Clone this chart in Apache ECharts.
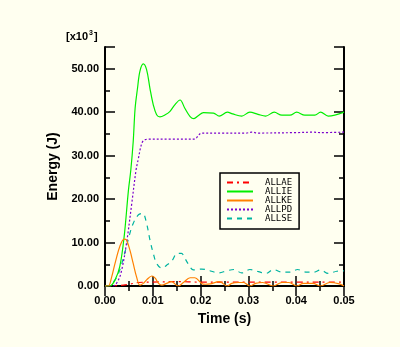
<!DOCTYPE html>
<html><head><meta charset="utf-8">
<script src="https://cdn.jsdelivr.net/npm/echarts@6/dist/echarts.min.js"></script>
<style>html,body{margin:0;padding:0;background:#FFFFF0;}#c{width:400px;height:347px;}</style>
</head><body><div id="c"></div>
<script>
// ---- data (time in s, energy in 10^3 J) ----
const seriesNames = ['ALLAE', 'ALLIE', 'ALLKE', 'ALLPD', 'ALLSE'];
const xTicks = [0, 0.01, 0.02, 0.03, 0.04, 0.05];
const yTicks = [0, 10, 20, 30, 40, 50];

const aeTime = [0, 0.003, 0.005, 0.007, 0.010, 0.015, 0.020, 0.025, 0.030, 0.035, 0.040, 0.045, 0.050];
const aeVal  = [0, 0.1, 0.4, 0.8, 0.9, 1.0, 0.9, 0.9, 0.9, 0.9, 0.9, 0.9, 0.9];

const ieTime = [0, 0.001, 0.0021, 0.0031, 0.004, 0.0049, 0.0054, 0.0059, 0.0063, 0.0068, 0.0073, 0.008, 0.0087, 0.0094, 0.0101, 0.0108, 0.0115, 0.0126, 0.0136, 0.0146, 0.0157, 0.0167, 0.0178, 0.0186, 0.0195, 0.0206, 0.0227, 0.0239, 0.0256, 0.0267, 0.0286, 0.0303, 0.032, 0.0336, 0.0354, 0.037, 0.0387, 0.0401, 0.0418, 0.0439, 0.0451, 0.0467, 0.05];
const ieVal  = [0, 0, 1.4, 4.5, 11.3, 22, 26.7, 33.2, 40.9, 45.5, 49.4, 51.1, 49.8, 45.5, 41.7, 39.4, 38.9, 39.4, 40.2, 41.7, 42.8, 40.9, 39.0, 38.5, 39.2, 39.9, 39.8, 39.1, 40.0, 39.6, 39.1, 40.0, 39.5, 39.1, 40.0, 39.3, 39.3, 40.0, 39.3, 39.3, 40.0, 39.1, 40.0];

const keTime = [0, 0.0007, 0.0014, 0.0021, 0.0031, 0.004, 0.0045, 0.0052, 0.0059, 0.0066, 0.0073, 0.008, 0.0087, 0.0098, 0.0105, 0.0112, 0.0119, 0.0129, 0.0139, 0.0153, 0.0164, 0.0178, 0.0188, 0.0202, 0.021, 0.022, 0.0239, 0.0256, 0.0265, 0.0279, 0.029, 0.0303, 0.0315, 0.033, 0.0352, 0.037, 0.0385, 0.0401, 0.0415, 0.0435, 0.0451, 0.047, 0.049, 0.05];
const keVal  = [0, 0, 2.1, 5.2, 9.1, 10.8, 10.6, 8.3, 5.2, 2.1, 0.2, 0.6, 1.4, 2.3, 1.8, 0.6, 0.2, 0.6, 1.0, 0.0, 0.8, 1.9, 1.9, 0.6, 0.4, 0.5, 1.0, 0.0, 0.6, 0.8, 0.8, 0.0, 0.6, 0.8, 0.0, 0.8, 0.8, 0.0, 0.6, 0.6, 0.0, 0.8, 0.5, 0.0];

const pdTime = [0, 0.0017, 0.0028, 0.0035, 0.0045, 0.0056, 0.0065, 0.007, 0.0075, 0.008, 0.0091, 0.0136, 0.0188, 0.0195, 0.0202, 0.025, 0.0295, 0.0307, 0.032, 0.04, 0.0435, 0.045, 0.05];
const pdVal  = [0, 0, 1.4, 3.7, 9.8, 19, 26.7, 29.4, 32.1, 33.4, 33.8, 33.8, 33.8, 34.6, 35.2, 35.2, 35.2, 35.4, 35.2, 35.3, 35.4, 35.3, 35.4];

const seTime = [0, 0.0007, 0.0021, 0.0031, 0.0042, 0.0052, 0.0059, 0.007, 0.0079, 0.0087, 0.0094, 0.0101, 0.0108, 0.0119, 0.0129, 0.014, 0.0151, 0.016, 0.0167, 0.0174, 0.0185, 0.0202, 0.022, 0.0237, 0.0255, 0.027, 0.0286, 0.0303, 0.0321, 0.0337, 0.0352, 0.037, 0.0387, 0.0403, 0.042, 0.0437, 0.0451, 0.0467, 0.0485, 0.05];
const seVal  = [0, 0, 1.4, 3.7, 7.9, 12.1, 14.4, 16.4, 16.7, 14.4, 10.6, 7.5, 5.2, 4.1, 4.8, 5.8, 7.5, 7.5, 6.4, 5.1, 3.7, 3.9, 3.5, 3.0, 3.5, 3.8, 3.0, 3.8, 3.3, 2.9, 3.8, 3.2, 3.2, 3.8, 3.2, 3.2, 3.7, 2.9, 3.4, 3.5];

// ---- styling ----
const zip = (t, v) => t.map((x, i) => [x, v[i]]);
const FONT = "'Liberation Sans', Arial, sans-serif";
const GRID = { left: 105, right: 56, top: 47, bottom: 61 };
const black = '#000';
const yMax = 55;

const chart = echarts.init(document.getElementById('c'), null, { renderer: 'canvas' });

function yAx(pos, interval, len, labels, gridIndex, name) {
  return {
    type: 'value', gridIndex, position: pos, min: 0, max: yMax, interval,
    axisLine: { show: len === 5, lineStyle: { color: black, width: 2 } },
    axisTick: { show: true, inside: true, length: len, lineStyle: { color: black, width: 1.5 } },
    axisLabel: labels ? {
      show: true, color: black, fontFamily: FONT, fontWeight: 'bold', fontSize: 11, margin: 6,
      formatter: v => (yTicks.indexOf(v) >= 0 ? v.toFixed(2) : '')
    } : { show: false },
    splitLine: { show: false },
    name: name || '', nameLocation: 'middle', nameGap: 44,
    nameTextStyle: { color: black, fontFamily: FONT, fontWeight: 'bold', fontSize: 14 }
  };
}
function xAx(pos, labels, gridIndex) {
  return {
    type: 'value', gridIndex, position: pos, min: 0, max: 0.05, interval: 0.01,
    axisLine: { show: true, lineStyle: { color: black, width: 2 } },
    axisTick: { show: true, inside: true, length: 10, lineStyle: { color: black, width: 1.5 } },
    minorTick: { show: true, splitNumber: 2, length: 5, lineStyle: { color: black, width: 1.5 } },
    axisLabel: labels ? {
      show: true, color: black, fontFamily: FONT, fontWeight: 'bold', fontSize: 11, margin: 9,
      formatter: v => (xTicks.some(t => Math.abs(t - v) < 1e-9) ? v.toFixed(2) : '')
    } : { show: false },
    splitLine: { show: false },
    name: labels ? 'Time (s)' : '', nameLocation: 'middle', nameGap: 26,
    nameTextStyle: { color: black, fontFamily: FONT, fontWeight: 'bold', fontSize: 14 }
  };
}

const lineSeries = (name, t, v, color, type) => ({
  name, type: 'line', xAxisIndex: 0, yAxisIndex: 0, data: zip(t, v),
  showSymbol: false, symbol: 'none', smooth: 0.35, animation: false,
  lineStyle: { color, width: 1.2, type }, itemStyle: { color }
});

chart.setOption({
  backgroundColor: '#FFFFF0',
  animation: false,
  grid: [Object.assign({}, GRID), Object.assign({}, GRID)],
  xAxis: [xAx('bottom', true, 0), xAx('top', false, 1)],
  yAxis: [
    yAx('left', 5, 5, true, 0, 'Energy (J)'),
    yAx('right', 5, 5, false, 0),
    yAx('left', 10, 10, false, 1),
    yAx('right', 10, 10, false, 1)
  ],
  legend: {
    left: 220, top: 173, orient: 'vertical',
    data: seriesNames,
    itemWidth: 26, itemHeight: 11, itemGap: 0,
    padding: [5, 7, 6, 6],
    itemStyle: { opacity: 0 },
    borderColor: black, borderWidth: 1.5, backgroundColor: '#FFFFF0',
    textStyle: { color: black, fontFamily: "'DejaVu Sans Mono', monospace", fontSize: 9, padding: [0, 0, 0, 7] },
    selectedMode: false
  },
  graphic: [{
    type: 'text', left: 66, top: 30,
    style: {
      text: '{a|[x10}{s|3}{a|]}',
      rich: {
        a: { fontFamily: FONT, fontWeight: 'bold', fontSize: 11, fill: black },
        s: { fontFamily: FONT, fontWeight: 'bold', fontSize: 7, fill: black, verticalAlign: 'top', padding: [0, 1, 6, 1] }
      }
    }
  }],
  series: [
    lineSeries('ALLAE', aeTime, aeVal, '#FF0000', [6, 4, 2, 4]),
    lineSeries('ALLSE', seTime, seVal, '#00B3A0', [5, 5]),
    lineSeries('ALLPD', pdTime, pdVal, '#7A00CC', [2, 2]),
    lineSeries('ALLIE', ieTime, ieVal, '#00EE00', 'solid'),
    lineSeries('ALLKE', keTime, keVal, '#FF8000', 'solid')
  ]
});
</script></body></html>
